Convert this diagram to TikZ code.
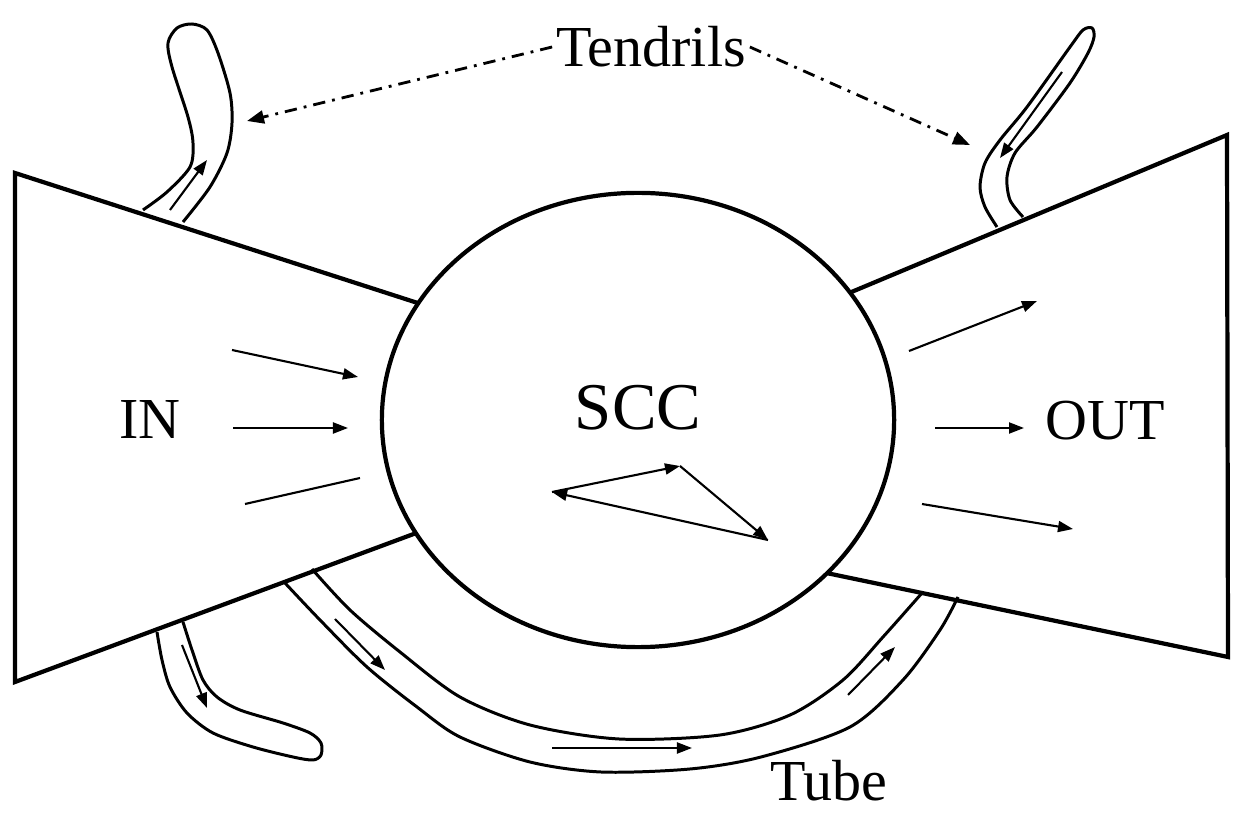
\documentclass[tikz,border=0pt]{standalone}
\usepackage{fontspec}
\setmainfont{Liberation Serif}
\usetikzlibrary{arrows.meta, shapes.geometric}

\begin{document}
\begin{tikzpicture}[
    x=0.01cm, y=-0.01cm,
    % Line styles
    rim/.style={line width=1.2pt, line join=miter},
    tendril/.style={line width=0.85pt},
    flow/.style={
        -{Triangle[length=1.5mm, width=1.1mm]},
        line width=0.6pt
    },
    pointer/.style={
        -{Triangle[length=1.7mm, width=1.3mm]},
        line width=0.8pt,
        dash pattern=on 3.5pt off 2pt on 0.8pt off 2pt
    },
    part/.style={font=\fontsize{16.5}{20}\selectfont, inner sep=1pt}
]

\useasboundingbox (0,0) rectangle (1248,822);

% Tendrils
\draw[tendril] plot[smooth] coordinates {(143,210) (167,192) (190,167) (193,143) (188,117) (172,67) (168,43) (177,28) (192,24) (207,30) (218,53) (230,93) (232,123) (227,153) (210,187) (183,222)};
\draw[tendril] plot[smooth] coordinates {(997,227) (985,207) (980,187) (985,163) (1000,140) (1027,107) (1070,47) (1083,30) (1092,28) (1094,37) (1088,53) (1070,83) (1037,127) (1015,153) (1007,177) (1010,200) (1023,217)};
\draw[tendril] plot[smooth] coordinates {(157,632) (162,660) (170,687) (187,713) (213,733) (253,747) (293,757) (313,760) (321,755) (321,743) (310,733) (283,723) (240,710) (217,697) (203,680) (192,650) (183,622)};

% Tube
\draw[tendril] plot[smooth] coordinates {(312,569) (350,610) (400,652) (460,697) (530,725) (619,739) (720,735) (790,715) (843,680) (883,637) (922,593)};
\draw[tendril] plot[smooth] coordinates {(285,583) (320,620) (367,667) (417,707) (460,737) (530,762) (601,772) (690,769) (761,757) (850,727) (903,680) (940,630) (958,597)};

% SCC core
\node[ellipse, draw, rim, inner sep=0pt, outer sep=0pt,
      minimum width=5.12cm, minimum height=4.54cm] (core) at (638,420) {};

% IN and OUT
\draw[rim] (core.152) -- (15,173) -- (15,682) -- (core.207);
\draw[rim] (core.31) -- (1227,135) -- (1228,657) -- (core.321);

% Labels
\node[part] (in) at (150,420) {IN};
\node[part, font=\fontsize{19}{23}\selectfont] (scc) at (638,408) {SCC};
\node[part] (out) at (1105,421) {OUT};
\node[part] (tendrils) at (651,47) {Tendrils};
\node[part] (tube) at (829,781) {Tube};

% Pointers to the tendrils
\coordinate (tipL) at (247,121);
\coordinate (tipR) at (970,145);
\draw[pointer] (tendrils.west) -- (tipL);
\draw[pointer] (tendrils.east) -- (tipR);

% Flow into the core
\draw[flow] (232,350) -- (358,377);
\draw[flow] (233,428) -- (348,428);
\draw[line width=0.6pt] (245,504) -- (360,478);

% Cycle inside the core
\coordinate (sa) at (552,492);
\coordinate (sb) at (680,466);
\coordinate (sc) at (768,540);
\draw[flow] (sa) -- (sb);
\draw[flow] (sb) -- (sc);
\draw[flow] (sc) -- (sa);

% Flow out of the core
\draw[flow] (909,351) -- (1037,301);
\draw[flow] (935,428) -- (1024,428);
\draw[flow] (922,504) -- (1073,529);

% Flow along tendrils and tube
\draw[flow] (170,210) -- (207,160);
\draw[flow] (1062,72) -- (1000,158);
\draw[flow] (182,645) -- (207,708);
\draw[flow] (335,619) -- (385,670);
\draw[flow] (552,748) -- (692,748);
\draw[flow] (848,695) -- (895,647);

\end{tikzpicture}
\end{document}
